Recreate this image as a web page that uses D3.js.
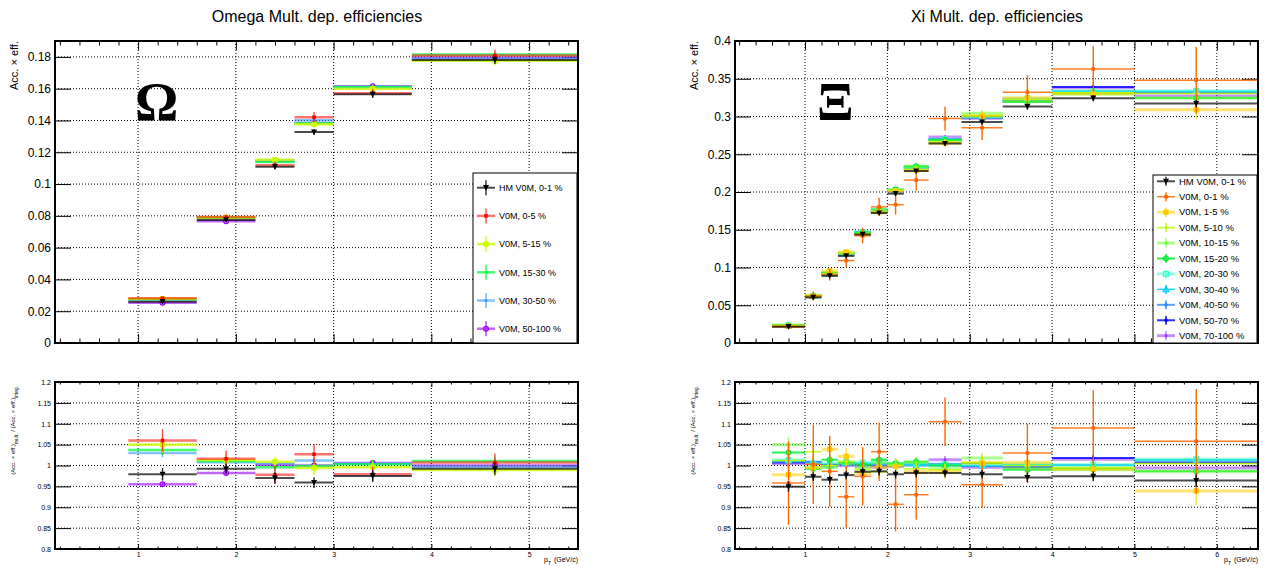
<!DOCTYPE html>
<html>
<head>
<meta charset="utf-8">
<script src="https://cdn.jsdelivr.net/npm/d3@7"></script>
<style>
body { margin: 0; background: #fff; }
svg { font-family: "Liberation Sans", Arial, Helvetica, sans-serif; }
</style>
</head>
<body>
<svg id="chart" width="1265" height="566"></svg>
<script>
// ---------- Omega data ----------
const omegaEdges = [0.9, 1.6, 2.2, 2.6, 3.0, 3.8, 5.5];
const omegaCenters = [1.25, 1.9, 2.4, 2.8, 3.4, 4.65];
const omegaLabels = ["HM V0M, 0-1 %", "V0M, 0-5 %", "V0M, 5-15 %", "V0M, 15-30 %", "V0M, 30-50 %", "V0M, 50-100 %"];
const omegaEff = [
  [0.0260, 0.0774, 0.1109, 0.1327, 0.1565, 0.1781],
  [0.0282, 0.0792, 0.1118, 0.1421, 0.1571, 0.1808],
  [0.0279, 0.0790, 0.1153, 0.1376, 0.1599, 0.1775],
  [0.0276, 0.0788, 0.1138, 0.1383, 0.1610, 0.1815],
  [0.0274, 0.0786, 0.1149, 0.1401, 0.1611, 0.1790],
  [0.0254, 0.0766, 0.1145, 0.1384, 0.1615, 0.1795]
];
const omegaEffErr = [
  [0.0004, 0.0009, 0.0016, 0.0018, 0.0022, 0.0025],
  [0.0007, 0.0016, 0.0023, 0.0033, 0.0029, 0.0039],
  [0.0005, 0.0012, 0.0014, 0.0021, 0.0019, 0.0027],
  [0.0003, 0.0008, 0.0011, 0.0014, 0.0016, 0.0018],
  [0.0003, 0.0008, 0.0011, 0.0014, 0.0016, 0.0018],
  [0.0002, 0.0005, 0.0008, 0.0010, 0.0011, 0.0013]
];
const omegaRatio = [
  [0.979, 0.992, 0.970, 0.959, 0.975, 0.992],
  [1.060, 1.016, 0.978, 1.027, 0.979, 1.007],
  [1.050, 1.013, 1.009, 0.994, 0.996, 0.989],
  [1.037, 1.010, 0.996, 0.999, 1.003, 1.011],
  [1.030, 1.008, 1.005, 1.012, 1.004, 0.997],
  [0.955, 0.982, 1.002, 1.000, 1.006, 1.000]
];
const omegaRatioErr = [
  [0.015, 0.012, 0.014, 0.013, 0.014, 0.015],
  [0.027, 0.020, 0.022, 0.024, 0.018, 0.022],
  [0.020, 0.015, 0.012, 0.015, 0.012, 0.015],
  [0.012, 0.010, 0.010, 0.010, 0.010, 0.010],
  [0.010, 0.008, 0.008, 0.008, 0.008, 0.008],
  [0.005, 0.005, 0.005, 0.005, 0.005, 0.005]
];
const omegaYTicks = [0, 0.02, 0.04, 0.06, 0.08, 0.1, 0.12, 0.14, 0.16, 0.18];
const omegaXTicks = [1, 2, 3, 4, 5];

// ---------- Xi data ----------
const xiEdges = [0.6, 1.0, 1.2, 1.4, 1.6, 1.8, 2.0, 2.2, 2.5, 2.9, 3.4, 4.0, 5.0, 6.5];
const xiCenters = [0.8, 1.1, 1.3, 1.5, 1.7, 1.9, 2.1, 2.35, 2.7, 3.15, 3.7, 4.5, 5.75];
const xiLabels = ["HM V0M, 0-1 %", "V0M, 0-1 %", "V0M, 1-5 %", "V0M, 5-10 %", "V0M, 10-15 %", "V0M, 15-20 %",
  "V0M, 20-30 %", "V0M, 30-40 %", "V0M, 40-50 %", "V0M, 50-70 %", "V0M, 70-100 %"];
const xiEff = [
  [0.0216, 0.0603, 0.0889, 0.1153, 0.1438, 0.1721, 0.1978, 0.2278, 0.2642, 0.2927, 0.3131, 0.3243, 0.3172],
  [0.0218, 0.0622, 0.0907, 0.1092, 0.1422, 0.1803, 0.1832, 0.2158, 0.2972, 0.2852, 0.3322, 0.3630, 0.3481],
  [0.0223, 0.0617, 0.0956, 0.1206, 0.1432, 0.1738, 0.2016, 0.2285, 0.2650, 0.3008, 0.3248, 0.3300, 0.3089],
  [0.0231, 0.0640, 0.0920, 0.1192, 0.1445, 0.1719, 0.2020, 0.2301, 0.2663, 0.3014, 0.3225, 0.3313, 0.3306],
  [0.0239, 0.0617, 0.0915, 0.1186, 0.1453, 0.1755, 0.2026, 0.2339, 0.2668, 0.3044, 0.3202, 0.3297, 0.3244],
  [0.0235, 0.0615, 0.0933, 0.1188, 0.1463, 0.1769, 0.2030, 0.2341, 0.2690, 0.3008, 0.3193, 0.3307, 0.3244],
  [0.0231, 0.0623, 0.0926, 0.1189, 0.1470, 0.1762, 0.2028, 0.2327, 0.2698, 0.2993, 0.3235, 0.3337, 0.3339],
  [0.0231, 0.0622, 0.0920, 0.1187, 0.1467, 0.1754, 0.2024, 0.2320, 0.2695, 0.2990, 0.3231, 0.3330, 0.3336],
  [0.0230, 0.0626, 0.0918, 0.1184, 0.1466, 0.1747, 0.2022, 0.2322, 0.2690, 0.2984, 0.3222, 0.3333, 0.3323],
  [0.0230, 0.0625, 0.0922, 0.1185, 0.1464, 0.1745, 0.2020, 0.2325, 0.2698, 0.2987, 0.3215, 0.3390, 0.3310],
  [0.0229, 0.0622, 0.0920, 0.1180, 0.1457, 0.1738, 0.2016, 0.2322, 0.2728, 0.2978, 0.3206, 0.3380, 0.3270]
];
const xiEffErr = [
  [0.0003, 0.0006, 0.0009, 0.0012, 0.0015, 0.0017, 0.0020, 0.0023, 0.0027, 0.0030, 0.0039, 0.0040, 0.0049],
  [0.0023, 0.0059, 0.0078, 0.0089, 0.0102, 0.0122, 0.0131, 0.0139, 0.0156, 0.0164, 0.0226, 0.0300, 0.0440],
  [0.0009, 0.0019, 0.0023, 0.0024, 0.0029, 0.0035, 0.0040, 0.0042, 0.0048, 0.0060, 0.0065, 0.0083, 0.0115],
  [0.0006, 0.0012, 0.0018, 0.0021, 0.0022, 0.0026, 0.0030, 0.0035, 0.0040, 0.0045, 0.0048, 0.0050, 0.0066],
  [0.0004, 0.0009, 0.0012, 0.0015, 0.0018, 0.0021, 0.0024, 0.0028, 0.0032, 0.0036, 0.0039, 0.0040, 0.0049],
  [0.0003, 0.0007, 0.0010, 0.0013, 0.0015, 0.0017, 0.0020, 0.0023, 0.0027, 0.0030, 0.0032, 0.0033, 0.0040],
  [0.0003, 0.0006, 0.0008, 0.0010, 0.0012, 0.0014, 0.0016, 0.0019, 0.0022, 0.0024, 0.0026, 0.0027, 0.0033],
  [0.0002, 0.0005, 0.0007, 0.0009, 0.0011, 0.0013, 0.0015, 0.0017, 0.0019, 0.0021, 0.0023, 0.0024, 0.0030],
  [0.0002, 0.0005, 0.0007, 0.0009, 0.0011, 0.0012, 0.0014, 0.0016, 0.0019, 0.0021, 0.0023, 0.0024, 0.0030],
  [0.0002, 0.0005, 0.0007, 0.0009, 0.0011, 0.0013, 0.0015, 0.0017, 0.0020, 0.0022, 0.0025, 0.0027, 0.0033],
  [0.0003, 0.0006, 0.0009, 0.0011, 0.0013, 0.0015, 0.0018, 0.0021, 0.0024, 0.0027, 0.0030, 0.0032, 0.0040]
];
const xiRatio = [
  [0.949, 0.973, 0.966, 0.977, 0.985, 0.986, 0.979, 0.982, 0.982, 0.979, 0.971, 0.974, 0.964],
  [0.958, 1.003, 0.986, 0.925, 0.974, 1.033, 0.907, 0.930, 1.105, 0.954, 1.030, 1.090, 1.058],
  [0.978, 0.995, 1.039, 1.022, 0.981, 0.996, 0.998, 0.985, 0.985, 1.006, 1.007, 0.991, 0.939],
  [1.012, 1.033, 1.000, 1.010, 0.990, 0.985, 1.000, 0.992, 0.990, 1.008, 1.000, 0.995, 1.005],
  [1.050, 0.995, 0.995, 1.005, 0.995, 1.006, 1.003, 1.008, 0.992, 1.018, 0.993, 0.990, 0.986],
  [1.031, 0.992, 1.014, 1.007, 1.002, 1.014, 1.005, 1.009, 1.000, 1.006, 0.990, 0.993, 0.986],
  [1.013, 1.005, 1.006, 1.008, 1.007, 1.010, 1.004, 1.003, 1.003, 1.001, 1.003, 1.002, 1.015],
  [1.012, 1.003, 1.000, 1.006, 1.005, 1.005, 1.002, 1.000, 1.002, 1.000, 1.002, 1.000, 1.014],
  [1.009, 1.009, 0.998, 1.003, 1.004, 1.001, 1.001, 1.001, 1.000, 0.998, 0.999, 1.001, 1.010],
  [1.007, 1.008, 1.002, 1.004, 1.003, 1.000, 1.000, 1.002, 1.003, 0.999, 0.997, 1.018, 1.006],
  [1.005, 1.004, 1.000, 1.000, 0.998, 0.996, 0.998, 1.001, 1.014, 0.996, 0.994, 1.015, 0.994]
];
const xiRatioErr = [
  [0.012, 0.010, 0.010, 0.010, 0.010, 0.010, 0.010, 0.010, 0.010, 0.010, 0.012, 0.012, 0.015],
  [0.100, 0.095, 0.085, 0.075, 0.070, 0.070, 0.065, 0.060, 0.058, 0.055, 0.070, 0.090, 0.125],
  [0.040, 0.030, 0.025, 0.020, 0.020, 0.020, 0.020, 0.018, 0.018, 0.020, 0.020, 0.025, 0.035],
  [0.025, 0.020, 0.020, 0.018, 0.015, 0.015, 0.015, 0.015, 0.015, 0.015, 0.015, 0.015, 0.020],
  [0.018, 0.015, 0.013, 0.013, 0.012, 0.012, 0.012, 0.012, 0.012, 0.012, 0.012, 0.012, 0.015],
  [0.015, 0.012, 0.011, 0.011, 0.010, 0.010, 0.010, 0.010, 0.010, 0.010, 0.010, 0.010, 0.012],
  [0.012, 0.010, 0.009, 0.009, 0.008, 0.008, 0.008, 0.008, 0.008, 0.008, 0.008, 0.008, 0.010],
  [0.010, 0.008, 0.008, 0.008, 0.007, 0.007, 0.007, 0.007, 0.007, 0.007, 0.007, 0.007, 0.009],
  [0.010, 0.008, 0.008, 0.008, 0.007, 0.007, 0.007, 0.007, 0.007, 0.007, 0.007, 0.007, 0.009],
  [0.010, 0.008, 0.008, 0.008, 0.007, 0.007, 0.007, 0.007, 0.007, 0.007, 0.008, 0.008, 0.010],
  [0.012, 0.010, 0.009, 0.009, 0.009, 0.009, 0.009, 0.009, 0.009, 0.009, 0.009, 0.010, 0.012]
];
const xiYTicks = [0, 0.05, 0.1, 0.15, 0.2, 0.25, 0.3, 0.35, 0.4];
const xiXTicks = [1, 2, 3, 4, 5, 6];

const ratioTicks = [0.8, 0.85, 0.9, 0.95, 1, 1.05, 1.1, 1.15, 1.2];
const ratioTickLabels = ["0.8", "0.85", "0.9", "0.95", "1", "1.05", "1.1", "1.15", "1.2"];

// ---------- styles ----------
const omegaStyle = [
  { c: "#000000", w: 2, o: 0.7, m: "tridown" },
  { c: "#ff0000", w: 2.5, o: 0.55, m: "square" },
  { c: "#ccff00", w: 2.5, o: 0.8, m: "bigsquare" },
  { c: "#00ff44", w: 2.5, o: 0.75, m: "dot" },
  { c: "#3399ff", w: 2.5, o: 0.6, m: "dot" },
  { c: "#9900ff", w: 2.5, o: 0.6, m: "circle" }
];
const xiStyle = [
  { c: "#000000", w: 2, o: 0.7, m: "tridown" },
  { c: "#ff6600", w: 1.5, o: 0.85, m: "square" },
  { c: "#ffcc00", w: 3, o: 0.55, m: "bigsquare" },
  { c: "#bbff00", w: 1.5, o: 0.9, m: "dot" },
  { c: "#66ff33", w: 3, o: 0.55, m: "dot" },
  { c: "#00ee33", w: 2, o: 0.85, m: "circle" },
  { c: "#33ffcc", w: 3, o: 0.55, m: "opensquare" },
  { c: "#00ccff", w: 1.5, o: 0.9, m: "opentri" },
  { c: "#3388ff", w: 2, o: 0.8, m: "diamond" },
  { c: "#0000ff", w: 2, o: 0.8, m: "diamond" },
  { c: "#9933ff", w: 3, o: 0.55, m: "dot" }
];

const svg = d3.select("#chart");
const TOP = [41, 343], BOT = [382, 549], FW = 523;
const fmt = d => String(+d.toFixed(3));

function drawMarker(g, type, cx, cy, color) {
  if (type === "tridown") {
    g.append("path").attr("d", `M${cx - 3},${cy - 2.6}L${cx + 3},${cy - 2.6}L${cx},${cy + 3}Z`).attr("fill", color);
  } else if (type === "square") {
    g.append("rect").attr("x", cx - 1.8).attr("y", cy - 1.8).attr("width", 3.6).attr("height", 3.6).attr("fill", color);
  } else if (type === "bigsquare") {
    g.append("rect").attr("x", cx - 2.7).attr("y", cy - 2.7).attr("width", 5.4).attr("height", 5.4).attr("fill", color);
  } else if (type === "dot") {
    g.append("circle").attr("cx", cx).attr("cy", cy).attr("r", 1.5).attr("fill", color);
  } else if (type === "circle") {
    g.append("circle").attr("cx", cx).attr("cy", cy).attr("r", 2.4).attr("fill", "none").attr("stroke", color).attr("stroke-width", 1.2);
  } else if (type === "opensquare") {
    g.append("rect").attr("x", cx - 2.4).attr("y", cy - 2.4).attr("width", 4.8).attr("height", 4.8).attr("fill", "none").attr("stroke", color).attr("stroke-width", 1.2);
  } else if (type === "opentri") {
    g.append("path").attr("d", `M${cx - 2.8},${cy + 2.3}L${cx + 2.8},${cy + 2.3}L${cx},${cy - 2.8}Z`).attr("fill", "none").attr("stroke", color).attr("stroke-width", 1.2);
  } else if (type === "diamond") {
    g.append("path").attr("d", `M${cx},${cy - 2.8}L${cx + 2},${cy}L${cx},${cy + 2.8}L${cx - 2},${cy}Z`).attr("fill", color);
  }
}

function styleAxis(ax, size) {
  ax.select(".domain").remove();
  ax.selectAll(".tick line").attr("stroke", "#000").attr("stroke-width", 1);
  ax.selectAll("text").attr("font-family", '"Liberation Sans", Arial, sans-serif').attr("font-size", size).attr("fill", "#000");
}

function drawFrame(g, x, y, yr, o) {
  const [t, b] = yr;
  const l = x.range()[0], r = x.range()[1];
  const id = "clip" + Math.round(l) + "_" + t;
  g.append("clipPath").attr("id", id).append("rect").attr("x", l).attr("y", t).attr("width", r - l).attr("height", b - t);

  // grid
  const grid = g.append("g").attr("stroke", "#000").attr("stroke-width", 1).attr("stroke-dasharray", "1,2");
  o.xTicks.forEach(v => grid.append("line").attr("x1", x(v)).attr("x2", x(v)).attr("y1", t).attr("y2", b));
  o.yTicks.filter(v => y(v) > t + 1 && y(v) < b - 1)
    .forEach(v => grid.append("line").attr("x1", l).attr("x2", r).attr("y1", y(v)).attr("y2", y(v)));

  // axes ticks
  const minor = d3.range(Math.ceil(x.domain()[0] * 5), Math.floor(x.domain()[1] * 5) + 1).map(v => v / 5)
    .filter(v => Math.abs(v - Math.round(v)) > 1e-6);
  const axB = g.append("g").attr("transform", `translate(0,${b})`)
    .call(d3.axisBottom(x).tickValues(o.xTicks).tickSize(-o.xTick).tickPadding(3)
      .tickFormat(o.xLabels ? (d => String(d)) : ""));
  styleAxis(axB, 7);
  styleAxis(g.append("g").attr("transform", `translate(0,${b})`)
    .call(d3.axisBottom(x).tickValues(minor).tickSize(-o.xTick / 2).tickFormat("")), 7);
  styleAxis(g.append("g").attr("transform", `translate(0,${t})`)
    .call(d3.axisTop(x).tickValues(o.xTicks).tickSize(-o.xTick).tickFormat("")), 7);
  styleAxis(g.append("g").attr("transform", `translate(0,${t})`)
    .call(d3.axisTop(x).tickValues(minor).tickSize(-o.xTick / 2).tickFormat("")), 7);
  const axL = g.append("g").attr("transform", `translate(${l},0)`)
    .call(d3.axisLeft(y).tickValues(o.yTicks).tickSize(-16).tickPadding(4)
      .tickFormat((d, i) => o.yLabels[i]));
  styleAxis(axL, o.yFont);
  styleAxis(g.append("g").attr("transform", `translate(${r},0)`)
    .call(d3.axisRight(y).tickValues(o.yTicks).tickSize(-16).tickFormat("")), 7);

  // data
  const data = g.append("g").attr("clip-path", `url(#${id})`);
  const n = o.vals.length;
  for (let s = n - 1; s >= 0; s--) {
    const st = o.style[s];
    const sg = data.append("g");
    o.vals[s].forEach((v, i) => {
      sg.append("line").attr("x1", x(o.edges[i])).attr("x2", x(o.edges[i + 1]))
        .attr("y1", y(v)).attr("y2", y(v))
        .attr("stroke", st.c).attr("stroke-width", st.w).attr("stroke-opacity", st.o);
      sg.append("line").attr("x1", x(o.centers[i])).attr("x2", x(o.centers[i]))
        .attr("y1", y(v - o.errs[s][i])).attr("y2", y(v + o.errs[s][i]))
        .attr("stroke", st.c).attr("stroke-width", 1.4).attr("stroke-opacity", Math.min(1, st.o + 0.15));
      drawMarker(sg, st.m, x(o.centers[i]), y(v), st.c);
    });
  }

  g.append("rect").attr("x", l).attr("y", t).attr("width", r - l).attr("height", b - t)
    .attr("fill", "none").attr("stroke", "#000").attr("stroke-width", 2);
}

function drawPanel(p) {
  const g = svg.append("g");
  const x = d3.scaleLinear().domain(p.xDomain).range([p.left, p.left + FW]);
  const yTop = d3.scaleLinear().domain([0, p.yMax]).range([TOP[1], TOP[0]]);
  const yBot = d3.scaleLinear().domain([0.8, 1.2]).range([BOT[1], BOT[0]]);

  g.append("text").attr("x", p.left + FW / 2 + 0.5).attr("y", 22).attr("text-anchor", "middle")
    .attr("font-size", 16).text(p.title);

  drawFrame(g, x, yTop, TOP, {
    xTicks: p.xTicks, xLabels: false, xTick: 9,
    yTicks: p.yTicks, yLabels: p.yTicks.map(fmt), yFont: 12,
    vals: p.eff, errs: p.effErr, edges: p.edges, centers: p.centers, style: p.style
  });
  drawFrame(g, x, yBot, BOT, {
    xTicks: p.xTicks, xLabels: true, xTick: 5,
    yTicks: ratioTicks, yLabels: ratioTickLabels, yFont: 7,
    vals: p.ratio, errs: p.ratioErr, edges: p.edges, centers: p.centers, style: p.style
  });

  // axis titles
  g.append("text").attr("transform", `translate(${p.left - 37},${TOP[0]}) rotate(-90)`)
    .attr("text-anchor", "end").attr("font-size", 11).text("Acc. \u00d7 eff.");
  const rt = g.append("text").attr("transform", `translate(${p.left - 40},${BOT[0] + 4}) rotate(-90)`)
    .attr("text-anchor", "end").attr("font-size", 6);
  rt.append("tspan").text("(Acc. \u00d7 eff.)");
  rt.append("tspan").attr("baseline-shift", "sub").attr("font-size", 4.8).text("mult.");
  rt.append("tspan").text(" / (Acc. \u00d7 eff.)");
  rt.append("tspan").attr("baseline-shift", "sub").attr("font-size", 4.8).text("integ.");
  const xt = g.append("text").attr("x", p.left + FW).attr("y", 562).attr("text-anchor", "end").attr("font-size", 7);
  xt.append("tspan").text("p");
  xt.append("tspan").attr("baseline-shift", "sub").attr("font-size", 5).text("T");
  xt.append("tspan").attr("dx", 1).text(" (GeV/c)");

  // particle symbol
  g.append("text").attr("x", p.symX).attr("y", 120).attr("font-family", '"Liberation Serif", "DejaVu Serif", serif')
    .attr("font-weight", "bold").attr("font-size", p.symSize).text(p.symbol);

  // legend
  const lg = g.append("g");
  const L = p.legend;
  lg.append("rect").attr("x", L.x0).attr("y", L.y0).attr("width", L.x1 - L.x0).attr("height", L.y1 - L.y0)
    .attr("fill", "#fff").attr("stroke", "#000").attr("stroke-width", 1);
  lg.append("line").attr("x1", L.x1 + 1).attr("x2", L.x1 + 1).attr("y1", L.y0 + 2).attr("y2", L.y1)
    .attr("stroke", "#000").attr("stroke-width", 1.5);
  p.labels.forEach((lab, i) => {
    const st = p.style[i];
    const cy = L.first + i * L.dy;
    const lx0 = L.x0 + 4, lx1 = L.x0 + 22, mx = (lx0 + lx1) / 2;
    lg.append("line").attr("x1", lx0).attr("x2", lx1).attr("y1", cy).attr("y2", cy)
      .attr("stroke", st.c).attr("stroke-width", st.w).attr("stroke-opacity", st.o);
    lg.append("line").attr("x1", mx).attr("x2", mx).attr("y1", cy - L.bar).attr("y2", cy + L.bar)
      .attr("stroke", st.c).attr("stroke-width", 1.4).attr("stroke-opacity", Math.min(1, st.o + 0.15));
    drawMarker(lg, st.m, mx, cy, st.c);
    lg.append("text").attr("x", L.x0 + 26).attr("y", cy + 3.3).attr("font-size", L.font).text(lab);
  });
}

drawPanel({
  title: "Omega Mult. dep. efficiencies", left: 55, xDomain: [0.15, 5.5], yMax: 0.19,
  xTicks: omegaXTicks, yTicks: omegaYTicks, edges: omegaEdges, centers: omegaCenters,
  eff: omegaEff, effErr: omegaEffErr, ratio: omegaRatio, ratioErr: omegaRatioErr,
  labels: omegaLabels, style: omegaStyle, symbol: "\u03a9", symX: 135, symSize: 54,
  legend: { x0: 473, x1: 577, y0: 173, y1: 343, first: 187.7, dy: 28.2, bar: 7.5, font: 9 }
});
drawPanel({
  title: "Xi Mult. dep. efficiencies", left: 735, xDomain: [0.15, 6.5], yMax: 0.4,
  xTicks: xiXTicks, yTicks: xiYTicks, edges: xiEdges, centers: xiCenters,
  eff: xiEff, effErr: xiEffErr, ratio: xiRatio, ratioErr: xiRatioErr,
  labels: xiLabels, style: xiStyle, symbol: "\u039e", symX: 817, symSize: 54,
  legend: { x0: 1153, x1: 1257, y0: 175, y1: 343, first: 181.3, dy: 15.44, bar: 4.5, font: 9.5 }
});
</script>
</body>
</html>
